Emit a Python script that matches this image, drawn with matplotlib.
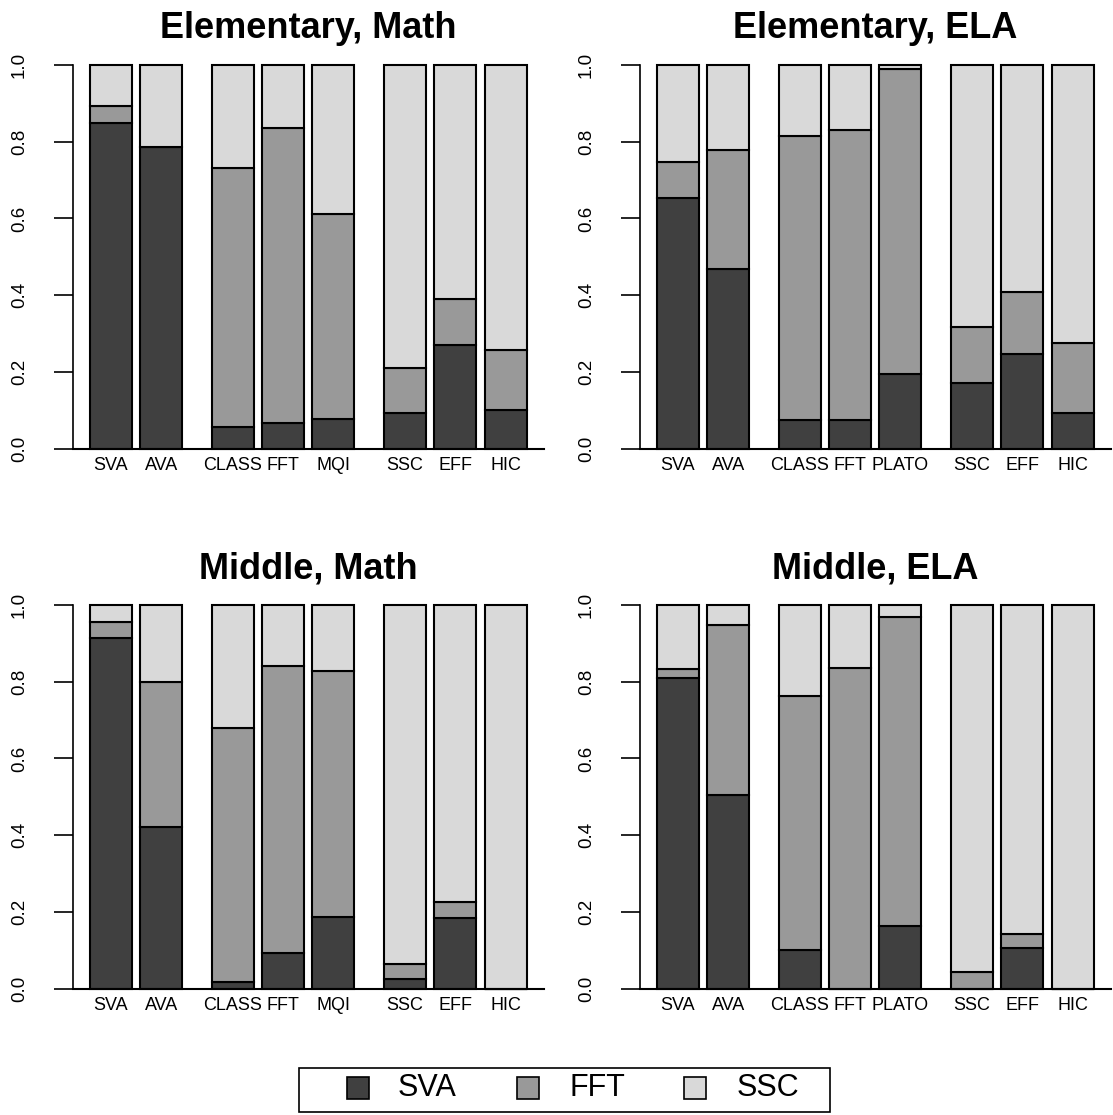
import matplotlib
matplotlib.use("Agg")
import matplotlib.pyplot as plt
from matplotlib.patches import Rectangle
import numpy as np

plt.rcParams['font.family'] = ['Liberation Sans', 'DejaVu Sans']

# ---------------- data ----------------
labels_math = ["SVA", "AVA", "CLASS", "FFT", "MQI", "SSC", "EFF", "HIC"]
labels_ela = ["SVA", "AVA", "CLASS", "FFT", "PLATO", "SSC", "EFF", "HIC"]
group_sizes = [2, 3, 3]

series_names = ["SVA", "FFT", "SSC"]
series_colors = ["#404040", "#999999", "#d9d9d9"]

# Elementary, Math
em_sva = [0.847, 0.786, 0.057, 0.068, 0.077, 0.094, 0.270, 0.102]
em_fft = [0.046, 0.000, 0.673, 0.766, 0.534, 0.116, 0.120, 0.156]
em_ssc = [0.107, 0.214, 0.270, 0.166, 0.389, 0.790, 0.610, 0.742]
# Elementary, ELA
ee_sva = [0.653, 0.469, 0.076, 0.075, 0.196, 0.172, 0.247, 0.093]
ee_fft = [0.094, 0.309, 0.738, 0.755, 0.793, 0.146, 0.162, 0.184]
ee_ssc = [0.253, 0.222, 0.186, 0.170, 0.011, 0.682, 0.591, 0.723]
# Middle, Math
mm_sva = [0.914, 0.421, 0.017, 0.093, 0.188, 0.026, 0.186, 0.000]
mm_fft = [0.040, 0.379, 0.661, 0.748, 0.640, 0.038, 0.041, 0.000]
mm_ssc = [0.046, 0.200, 0.322, 0.159, 0.172, 0.936, 0.773, 1.000]
# Middle, ELA
me_sva = [0.810, 0.506, 0.101, 0.000, 0.165, 0.000, 0.107, 0.000]
me_fft = [0.023, 0.442, 0.661, 0.836, 0.804, 0.044, 0.037, 0.000]
me_ssc = [0.167, 0.052, 0.238, 0.164, 0.031, 0.956, 0.856, 1.000]

panels = [
    ("Elementary, Math", labels_math, [em_sva, em_fft, em_ssc]),
    ("Elementary, ELA", labels_ela, [ee_sva, ee_fft, ee_ssc]),
    ("Middle, Math", labels_math, [mm_sva, mm_fft, mm_ssc]),
    ("Middle, ELA", labels_ela, [me_sva, me_fft, me_ssc]),
]

# bar layout (R barplot style spaces)
within_space, between_space = 0.2, 0.7
lefts = []
pos = 0.0
for gi, n in enumerate(group_sizes):
    for k in range(n):
        lefts.append(pos)
        pos += 1.0 + within_space
    pos += between_space - within_space
lefts = np.array(lefts)
centers = lefts + 0.5
span_lo, span_hi = lefts[0], lefts[-1] + 1.0
pad = 0.04 * (span_hi - span_lo)

W, H = 1113, 1115
fig = plt.figure(figsize=(W / 100, H / 100), dpi=100)

ax_w = 471.5 / W
ax_h = 384.3 / H
lefts_px = [72.5, 639.5]
bottoms_px = [449, 989]

for idx, (title, labels, series) in enumerate(panels):
    r, c = divmod(idx, 2)
    ax = fig.add_axes([lefts_px[c] / W, 1 - bottoms_px[r] / H, ax_w, ax_h])
    bottom = np.zeros(len(labels))
    for vals, col in zip(series, series_colors):
        vals = np.array(vals)
        bars = ax.bar(centers, vals, width=1.0, bottom=bottom, color=col,
                      edgecolor="black", linewidth=1.5, zorder=2)
        for b in bars:
            b.set_clip_on(False)
        bottom = bottom + vals
    ax.set_xlim(span_lo - pad, span_hi + pad)
    ax.set_ylim(0, 1)
    ax.axhline(0, color="black", linewidth=1.5, zorder=3, clip_on=False)
    for s in ["top", "right", "bottom"]:
        ax.spines[s].set_visible(False)
    ax.spines["left"].set_bounds(0, 1)
    ax.spines["left"].set_linewidth(1.2)
    yt = [0, 0.2, 0.4, 0.6, 0.8, 1.0]
    ax.set_yticks(yt)
    ax.set_yticklabels([f"{v:.1f}" for v in yt], rotation=90, va="center",
                       fontsize=13.5)
    ax.tick_params(axis="y", length=13.7, width=1.2, pad=18.5)
    ax.set_xticks(centers)
    ax.set_xticklabels(labels, fontsize=13)
    ax.tick_params(axis="x", length=0, pad=6)
    ax.set_title(title, fontsize=26, fontweight="bold", pad=19)
    ax.patch.set_alpha(0)

# legend (R-style horizontal box)
box_l, box_r, box_t, box_b = 298.5, 830, 1068, 1112
fig.patches.append(Rectangle((box_l / W, 1 - box_b / H), (box_r - box_l) / W,
                             (box_b - box_t) / H, transform=fig.transFigure,
                             facecolor="white", edgecolor="black", linewidth=1.2))
sq = 22
ymid = 1088
sq_x = [347, 516.5, 684]
txt_x = [398, 569.6, 737]
for name, col, sx, tx in zip(series_names, series_colors, sq_x, txt_x):
    fig.patches.append(Rectangle((sx / W, 1 - (ymid + sq / 2) / H), sq / W, sq / H,
                                 transform=fig.transFigure, facecolor=col,
                                 edgecolor="black", linewidth=1.2))
    fig.text(tx / W, 1 - ymid / H, name, fontsize=22, va="center", ha="left")

fig.savefig("out.png", dpi=100)
